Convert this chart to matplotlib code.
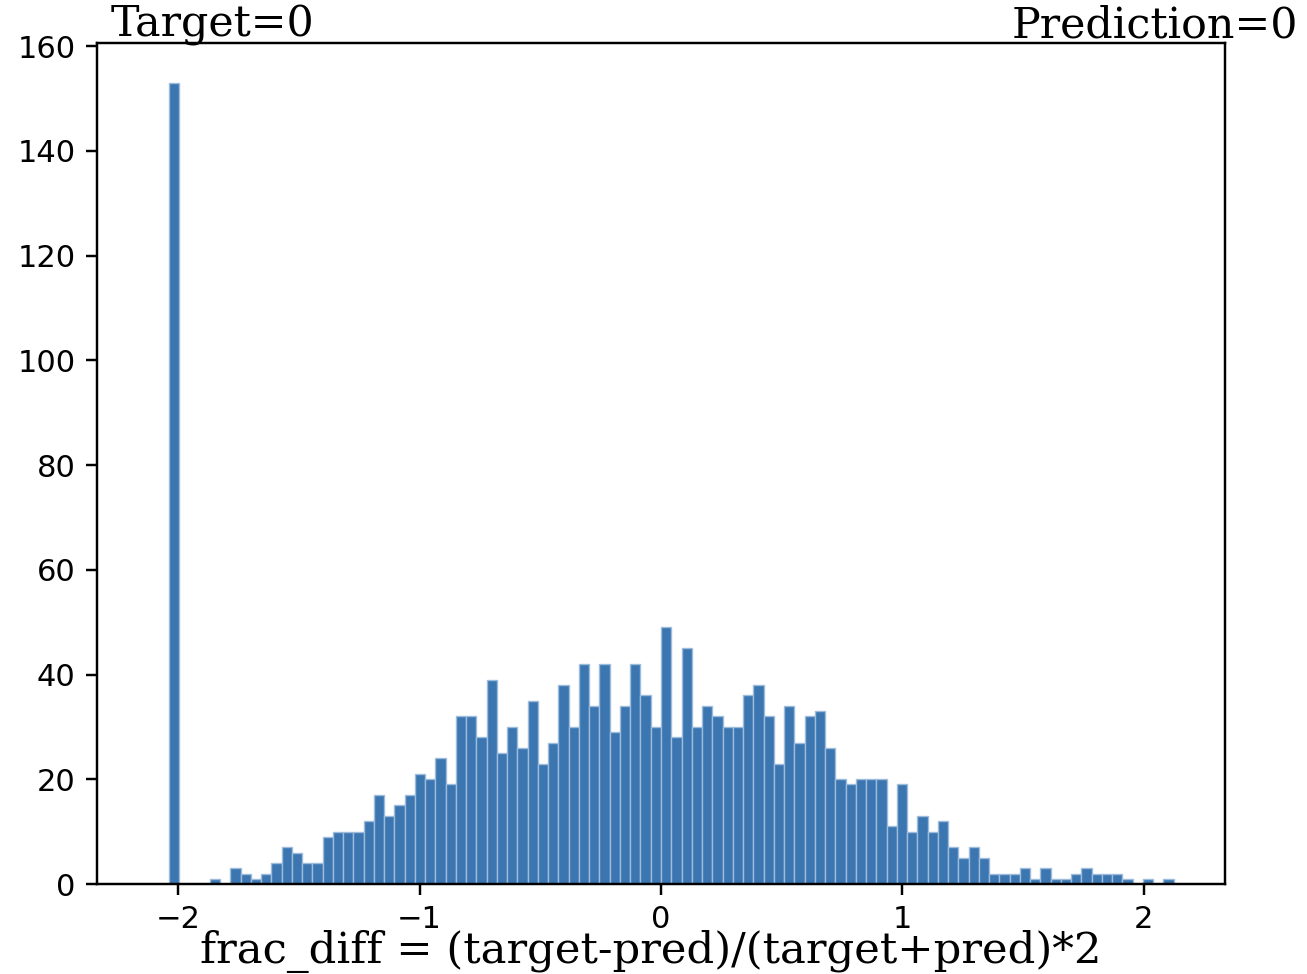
import numpy as np
import matplotlib
matplotlib.use("Agg")
import matplotlib.pyplot as plt

# Histogram of the fractional difference, 100 equal bins over a symmetric range
bin_lo, bin_hi, n_bins = -2.124, 2.124, 100
counts = [
    0, 0,
    153, 0, 0, 0, 1, 0, 3, 2, 1, 2,
    4, 7, 6, 4, 4, 9, 10, 10, 10, 12,
    17, 13, 15, 17, 21, 20, 24, 19, 32, 32,
    28, 39, 25, 30, 26, 35, 23, 27, 38, 30,
    42, 34, 42, 29, 34, 42, 36, 30, 49, 28,
    45, 30, 34, 32, 30, 30, 36, 38, 32, 23,
    34, 27, 32, 33, 26, 20, 19, 20, 20, 20,
    11, 19, 10, 13, 10, 12, 7, 5, 7, 5,
    2, 2, 2, 3, 1, 3, 1, 1, 2, 3,
    2, 2, 2, 1, 0, 1, 0, 1,
]
left_title = "Target=0"
right_title = "Prediction=0"
x_label = "frac_diff = (target-pred)/(target+pred)*2"

edges = np.linspace(bin_lo, bin_hi, n_bins + 1)
centers = 0.5 * (edges[:-1] + edges[1:])

W, H, DPI = 1307, 974, 220
fig = plt.figure(figsize=(W / DPI, H / DPI), dpi=DPI)
ax = fig.add_axes([97 / W, 1 - 884 / H, (1225 - 97) / W, (884 - 42.7) / H])

ax.hist(centers, bins=edges, weights=counts, color="#3b76b0",
        edgecolor="#9dbcdc", linewidth=0.45)

fig.text(111 / W, 1 - 37 / H, left_title, family="DejaVu Serif",
         fontsize=14, ha="left", va="baseline")
fig.text(1298 / W, 1 - 37 / H, right_title, family="DejaVu Serif",
         fontsize=14, ha="right", va="baseline")
fig.text(651 / W, 1 - 963 / H, x_label, family="DejaVu Serif",
         fontsize=14.2, ha="center", va="baseline")

fig.savefig("out.png", dpi=DPI)
